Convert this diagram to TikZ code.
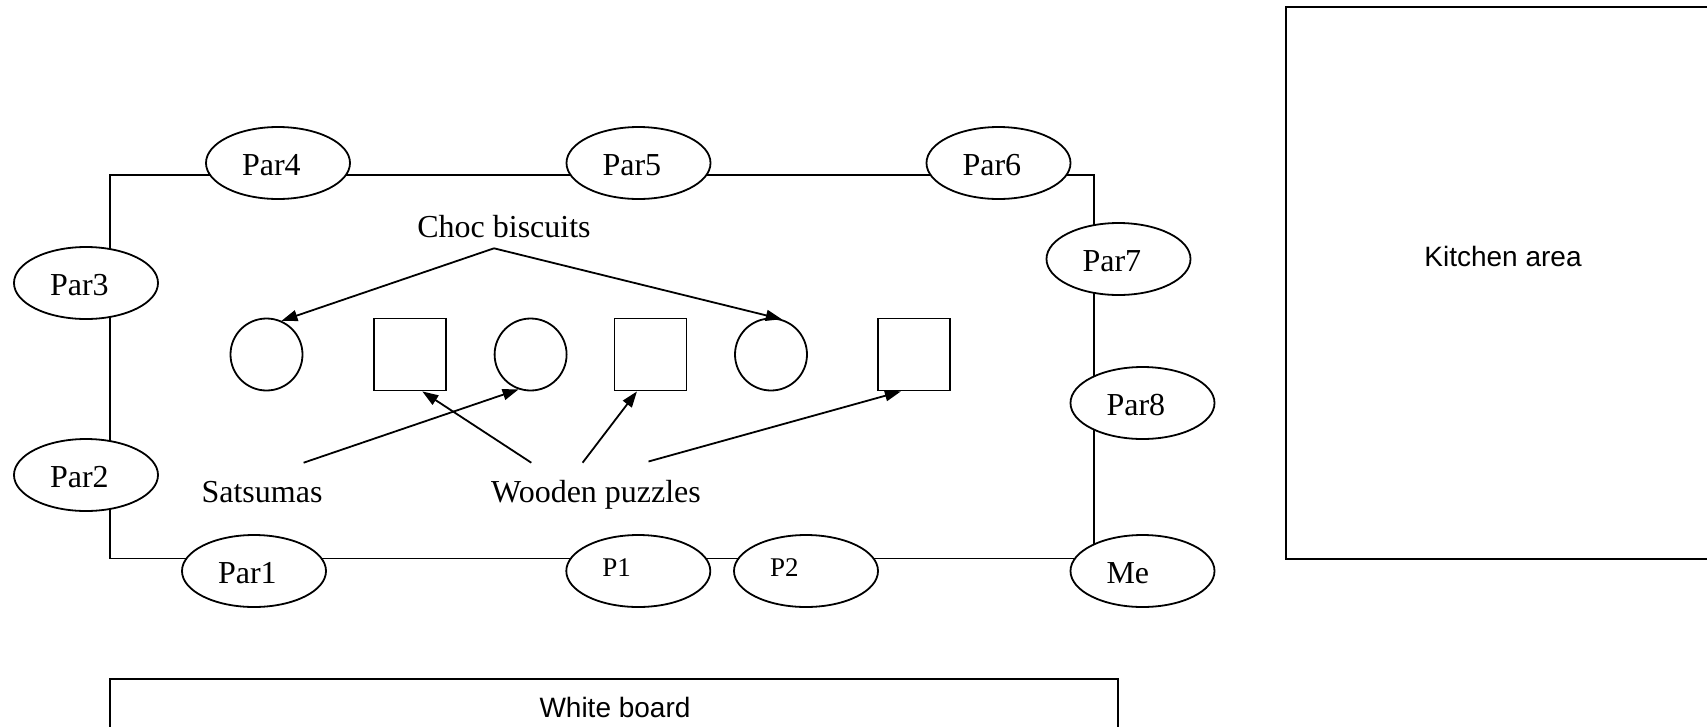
\documentclass[tikz,border=0pt]{standalone}
\usepackage{fontspec}
\setmainfont{Liberation Serif}
\newfontfamily\arialfont{Liberation Sans}
\usetikzlibrary{shapes.geometric,arrows.meta,calc}
\newcommand{\seatdown}[1]{\raisebox{-2.5pt}[\height][\depth]{#1}}
\newcommand{\seatup}[1]{\raisebox{3pt}[\height][\depth]{#1}}
\begin{document}
\begin{tikzpicture}[x=1pt,y=-1pt, line width=1.8pt,
  seat/.style={ellipse, draw, fill=white, minimum width=144pt, minimum height=72pt,
    inner sep=0pt, text width=72pt, align=left, font=\fontsize{32}{36}\selectfont},
  smallseat/.style={seat, font=\fontsize{27}{30}\selectfont},
  rounditem/.style={circle, draw, minimum size=72pt, inner sep=0pt},
  squareitem/.style={rectangle, draw, minimum size=72pt, inner sep=0pt},
  lbl/.style={font=\fontsize{32}{36}\selectfont, inner sep=0pt, anchor=base},
  area/.style={font=\arialfont\fontsize{28}{32}\selectfont, inner sep=0pt, anchor=base},
  pointer/.style={-{Triangle[length=16pt,width=11pt]}}]
\useasboundingbox (0,0) rectangle (1707,726);

% table outline
\coordinate (tl) at (110,175);
\coordinate (tr) at (1094,175);
\coordinate (br) at (1094,558.5);
\coordinate (bl) at (110,558.5);
\draw (tl) -- (tr) -- (br) -- (bl) -- cycle;

% kitchen area (cut by the right edge)
\coordinate (k1) at (1712,7);
\coordinate (k2) at (1286,7);
\coordinate (k3) at (1286,559);
\coordinate (k4) at (1712,559);
\draw (k1) -- (k2) -- (k3) -- (k4);
\node[area] (kitchen) at (1503,266) {Kitchen area};

% white board (cut by the bottom edge)
\coordinate (w1) at (110,740);
\coordinate (w2) at (110,679.3);
\coordinate (w3) at (1118.3,679.3);
\coordinate (w4) at (1118.3,740);
\draw (w1) -- (w2) -- (w3) -- (w4);
\node[area] (board) at (615,717.5) {White board};

% people
\node[seat] (par4) at (278,163) {\seatdown{Par4}};
\node[seat] (par5) at (638.5,163) {\seatdown{Par5}};
\node[seat] (par6) at (998.5,163) {\seatdown{Par6}};
\node[seat] (par3) at (86,283) {\seatdown{Par3}};
\node[seat] (par2) at (86,475) {\seatdown{Par2}};
\node[seat] (par7) at (1118.5,259) {\seatdown{Par7}};
\node[seat] (par8) at (1142.5,403) {\seatdown{Par8}};
\node[seat] (par1) at (254,571) {\seatdown{Par1}};
\node[smallseat] (p1) at (638.3,571) {\seatup{P1}};
\node[smallseat] (p2) at (806,571) {\seatup{P2}};
\node[seat] (me) at (1142.5,571) {\seatdown{Me}};

% items on the table
\node[rounditem] (c1) at (266.5,354.5) {};
\node[squareitem] (s1) at (410.3,354.5) {};
\node[rounditem] (c2) at (530.6,354.5) {};
\node[squareitem] (s2) at (650.4,354.5) {};
\node[rounditem] (c3) at (771,354.5) {};
\node[squareitem] (s3) at (914.3,354.5) {};

% labels
\node[lbl] (choc) at (504,237.5) {Choc biscuits};
\node[lbl] (sats) at (262,502.5) {Satsumas};
\node[lbl] (wood) at (596,502.5) {Wooden puzzles};

\coordinate (chocapex) at (494,248.3);
\coordinate (satsstart) at (303.6,462.7);
\coordinate (wood1) at (531.3,462.7);
\coordinate (wood2) at (582.6,462.7);
\coordinate (wood3) at (648.5,461.5);

\draw[pointer] (chocapex) -- (c1.66);
\draw[pointer] (chocapex) -- (c3.73);
\draw[pointer] (satsstart) -- (c2.251);
\draw[pointer] (wood1) -- (s1.-72);
\draw[pointer] (wood2) -- (s2.250);
\draw[pointer] (wood3) -- (s3.250);
\end{tikzpicture}
\end{document}
